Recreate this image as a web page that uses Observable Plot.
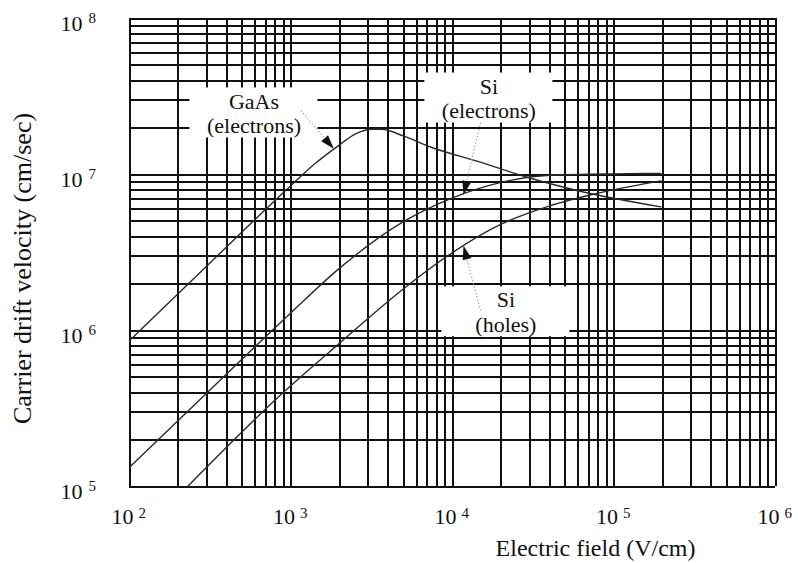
<!DOCTYPE html>
<html>
<head>
<meta charset="utf-8">
<script src="https://cdn.jsdelivr.net/npm/d3@7"></script>
<script src="https://cdn.jsdelivr.net/npm/@observablehq/plot@0.6"></script>
<style>
  body { margin: 0; background: #fff; }
  #chart svg { display: block; }
</style>
</head>
<body>
<div id="chart"></div>
<script>
// Drift velocity vs. electric field (log-log), cm/s against V/cm
const gaasField    = [100, 316, 1000, 1410, 2000, 2510, 3160, 3630, 5000, 7300, 14900, 29000, 59000, 195000];
const gaasVelocity = [8.6e5, 2.72e6, 8.5e6, 1.175e7, 1.55e7, 1.82e7, 1.95e7, 1.95e7, 1.76e7, 1.5e7, 1.2e7, 9.6e6, 7.9e6, 6.2e6];

const siElectronField    = [100, 316, 1000, 2000, 5000, 10000, 20000, 40000, 100000, 195000];
const siElectronVelocity = [1.33e5, 4.17e5, 1.3e6, 2.51e6, 5.0e6, 7.08e6, 8.9e6, 9.9e6, 1.01e7, 1.015e7];

const siHoleField    = [229, 871, 2000, 5000, 10000, 20000, 40000, 80000, 195000];
const siHoleVelocity = [1.0e5, 3.9e5, 8.3e5, 1.86e6, 3.16e6, 4.8e6, 6.3e6, 7.6e6, 9.1e6];

// decade exponents for the tick labels
const xTickExponents = [2, 3, 4, 5, 6];
const yTickExponents = [5, 6, 7, 8];

// curve labels (centre of each label) and the arrows pointing at the curves
const labelText   = ["GaAs\n(electrons)", "Si\n(electrons)", "Si\n(holes)"];
const labelField  = [590, 16800, 21400];
const labelVel    = [2.48e7, 3.09e7, 1.32e6];
const arrowFromE  = [1150, 14900, 14900];
const arrowFromV  = [2.57e7, 2.15e7, 1.34e6];
const arrowToE    = [1840, 11700, 11700];
const arrowToV    = [1.46e7, 7.4e6, 3.5e6];

const W = 798, H = 563;
const M = {top: 18, right: 23, bottom: 77, left: 129};

const toRows = (xs, ys) => xs.map((x, i) => ({x, y: ys[i]}));
const curves = [
  ...toRows(gaasField, gaasVelocity).map(d => ({...d, s: "GaAs"})),
  ...toRows(siElectronField, siElectronVelocity).map(d => ({...d, s: "Si e"})),
  ...toRows(siHoleField, siHoleVelocity).map(d => ({...d, s: "Si h"}))
];

// full log grid: 1..9 in every decade
const decadeGrid = (lo, hi) =>
  d3.range(lo, hi).flatMap(k => d3.range(1, 10).map(m => m * 10 ** k)).concat([10 ** hi]);
const gridX = decadeGrid(2, 6);
const gridY = decadeGrid(5, 8);

const labels = labelText.map((t, i) => ({t, E: labelField[i], v: labelVel[i]}));

// same mapping the plot uses, to orient the arrowheads along their shafts
const xs = Plot.scale({x: {type: "log", domain: [1e2, 1e6], range: [M.left, W - M.right]}});
const ys = Plot.scale({y: {type: "log", domain: [1e5, 1e8], range: [H - M.bottom, M.top]}});
const arrows = arrowFromE.map((e, i) => {
  const x1 = xs.apply(e), y1 = ys.apply(arrowFromV[i]);
  const x2 = xs.apply(arrowToE[i]), y2 = ys.apply(arrowToV[i]);
  return {
    E1: e, v1: arrowFromV[i], E2: arrowToE[i], v2: arrowToV[i],
    angle: Math.atan2(x2 - x1, -(y2 - y1)) * 180 / Math.PI
  };
});

const serif = "Liberation Serif, Times New Roman, serif";
const ink = "#111";

const chart = Plot.plot({
  width: W,
  height: H,
  marginTop: M.top,
  marginRight: M.right,
  marginBottom: M.bottom,
  marginLeft: M.left,
  style: {background: "#fff", fontFamily: serif},
  x: {type: "log", domain: [1e2, 1e6], axis: null},
  y: {type: "log", domain: [1e5, 1e8], axis: null},
  marks: [
    Plot.ruleX(gridX, {x: d => d, stroke: ink, strokeWidth: 2, shapeRendering: "crispEdges"}),
    Plot.ruleY(gridY, {y: d => d, stroke: ink, strokeWidth: 2, shapeRendering: "crispEdges"}),
    // white panels behind the curve labels
    Plot.rect(labels, {
      x1: "E", x2: "E", y1: "v", y2: "v",
      insetLeft: -64, insetRight: -64, insetTop: -25, insetBottom: -25,
      fill: "#fff"
    }),
    Plot.line(curves, {x: "x", y: "y", z: "s", curve: "monotone-x", stroke: "#2a2a2a", strokeWidth: 1.4}),
    // dotted leaders and filled arrowheads
    Plot.link(arrows, {x1: "E1", y1: "v1", x2: "E2", y2: "v2", stroke: "#999", strokeWidth: 1.2, strokeDasharray: "1.2,2.2"}),
    Plot.vector(arrows, {
      x: "E2", y: "v2", rotate: "angle", shape: "spike", anchor: "end",
      length: 14, r: 4.5, fill: ink, stroke: "none"
    }),
    Plot.text(labels, {
      x: "E", y: "v", text: "t", fontSize: 22, lineHeight: 1.1,
      fontFamily: serif, fill: ink
    }),
    // x tick labels: 10 with raised exponent
    Plot.text(xTickExponents, {
      x: d => 10 ** d, text: () => "10", frameAnchor: "bottom",
      dx: 4, dy: 37, textAnchor: "end", lineAnchor: "bottom",
      fontSize: 22, fontFamily: serif, fill: ink
    }),
    Plot.text(xTickExponents, {
      x: d => 10 ** d, text: d => String(d), frameAnchor: "bottom",
      dx: 9, dy: 31, textAnchor: "start", lineAnchor: "bottom",
      fontSize: 15, fontFamily: serif, fill: ink
    }),
    // y tick labels
    Plot.text(yTickExponents, {
      y: d => 10 ** d, text: () => "10", frameAnchor: "left",
      dx: -47, dy: 12, textAnchor: "end", lineAnchor: "bottom",
      fontSize: 22, fontFamily: serif, fill: ink
    }),
    Plot.text(yTickExponents, {
      y: d => 10 ** d, text: d => String(d), frameAnchor: "left",
      dx: -41, dy: 4, textAnchor: "start", lineAnchor: "bottom",
      fontSize: 15, fontFamily: serif, fill: ink
    }),
    // axis titles
    Plot.text(["Electric field (V/cm)"], {
      frameAnchor: "bottom-right", dx: -80, dy: 69,
      textAnchor: "end", lineAnchor: "bottom",
      fontSize: 24, fontFamily: serif, fill: ink
    }),
    Plot.text(["Carrier drift velocity (cm/sec)"], {
      frameAnchor: "left", dx: -107, dy: 16, rotate: -90,
      textAnchor: "middle", lineAnchor: "middle",
      fontSize: 26, fontFamily: serif, fill: ink
    })
  ]
});

document.getElementById("chart").append(chart);
</script>
</body>
</html>
